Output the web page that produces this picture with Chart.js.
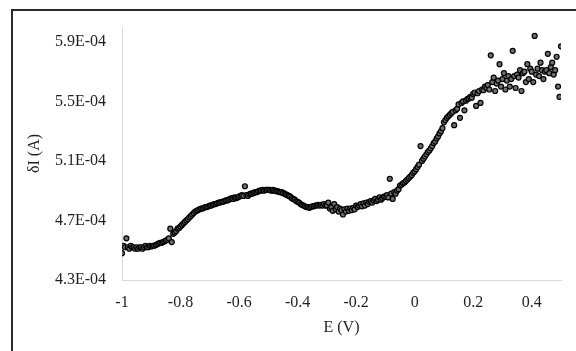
<!DOCTYPE html>
<html>
<head>
<meta charset="utf-8">
<script src="https://cdn.jsdelivr.net/npm/chart.js@4/dist/chart.umd.min.js"></script>
<style>
  html, body { margin: 0; padding: 0; background: #fff; }
  #wrap { width: 576px; height: 351px; }
</style>
</head>
<body>
<div id="wrap"><canvas id="c"></canvas></div>
<script>
// potential, V
const eV = [
  -1, -0.995, -0.99, -0.985, -0.98, -0.975, -0.97, -0.965, -0.96, -0.955,
  -0.95, -0.945, -0.94, -0.935, -0.93, -0.925, -0.92, -0.915, -0.91, -0.905,
  -0.9, -0.895, -0.89, -0.885, -0.88, -0.875, -0.87, -0.865, -0.86, -0.855,
  -0.85, -0.845, -0.84, -0.835, -0.83, -0.825, -0.82, -0.815, -0.81, -0.805,
  -0.8, -0.795, -0.79, -0.785, -0.78, -0.775, -0.77, -0.765, -0.76, -0.755,
  -0.75, -0.745, -0.74, -0.735, -0.73, -0.725, -0.72, -0.715, -0.71, -0.705,
  -0.7, -0.695, -0.69, -0.685, -0.68, -0.675, -0.67, -0.665, -0.66, -0.655,
  -0.65, -0.645, -0.64, -0.635, -0.63, -0.625, -0.62, -0.615, -0.61, -0.605,
  -0.6, -0.595, -0.59, -0.585, -0.58, -0.575, -0.57, -0.565, -0.56, -0.555,
  -0.55, -0.545, -0.54, -0.535, -0.53, -0.525, -0.52, -0.515, -0.51, -0.505,
  -0.5, -0.495, -0.49, -0.485, -0.48, -0.475, -0.47, -0.465, -0.46, -0.455,
  -0.45, -0.445, -0.44, -0.435, -0.43, -0.425, -0.42, -0.415, -0.41, -0.405,
  -0.4, -0.395, -0.39, -0.385, -0.38, -0.375, -0.37, -0.365, -0.36, -0.355,
  -0.35, -0.345, -0.34, -0.335, -0.33, -0.325, -0.32, -0.315, -0.31, -0.305,
  -0.3, -0.295, -0.29, -0.285, -0.28, -0.275, -0.27, -0.265, -0.26, -0.255,
  -0.25, -0.245, -0.24, -0.235, -0.23, -0.225, -0.22, -0.215, -0.21, -0.205,
  -0.2, -0.195, -0.19, -0.185, -0.18, -0.175, -0.17, -0.165, -0.16, -0.155,
  -0.15, -0.145, -0.14, -0.135, -0.13, -0.125, -0.12, -0.115, -0.11, -0.105,
  -0.1, -0.095, -0.09, -0.085, -0.08, -0.075, -0.07, -0.065, -0.06, -0.055,
  -0.05, -0.045, -0.04, -0.035, -0.03, -0.025, -0.02, -0.015, -0.01, -0.005,
  0, 0.005, 0.01, 0.015, 0.02, 0.025, 0.03, 0.035, 0.04, 0.045,
  0.05, 0.055, 0.06, 0.065, 0.07, 0.075, 0.08, 0.085, 0.09, 0.095,
  0.1, 0.105, 0.11, 0.115, 0.12, 0.125, 0.13, 0.135, 0.14, 0.145,
  0.15, 0.155, 0.16, 0.165, 0.17, 0.175, 0.18, 0.185, 0.19, 0.195,
  0.2, 0.205, 0.21, 0.215, 0.22, 0.225, 0.23, 0.235, 0.24, 0.245,
  0.25, 0.255, 0.26, 0.265, 0.27, 0.275, 0.28, 0.285, 0.29, 0.295,
  0.3, 0.305, 0.31, 0.315, 0.32, 0.325, 0.33, 0.335, 0.34, 0.345,
  0.35, 0.355, 0.36, 0.365, 0.37, 0.375, 0.38, 0.385, 0.39, 0.395,
  0.4, 0.405, 0.41, 0.415, 0.42, 0.425, 0.43, 0.435, 0.44, 0.445,
  0.45, 0.455, 0.46, 0.465, 0.47, 0.475, 0.48, 0.485, 0.49, 0.495,
  0.5
];

// delta current, in units of 1E-04 A
const dI = [
  4.48, 4.53, 4.52, 4.58, 4.52, 4.51, 4.53, 4.52, 4.52, 4.51,
  4.52, 4.51, 4.52, 4.52, 4.51, 4.52, 4.53, 4.52, 4.52, 4.53,
  4.525, 4.53, 4.53, 4.535, 4.54, 4.545, 4.55, 4.55, 4.555, 4.56,
  4.565, 4.57, 4.58, 4.645, 4.555, 4.61, 4.62, 4.63, 4.645, 4.65,
  4.66, 4.67, 4.68, 4.69, 4.70, 4.71, 4.72, 4.73, 4.74, 4.75,
  4.76, 4.765, 4.77, 4.775, 4.78, 4.78, 4.785, 4.79, 4.79, 4.795,
  4.80, 4.80, 4.805, 4.81, 4.81, 4.815, 4.82, 4.82, 4.825, 4.825,
  4.83, 4.835, 4.835, 4.84, 4.845, 4.85, 4.845, 4.855, 4.85, 4.855,
  4.86, 4.865, 4.87, 4.865, 4.93, 4.87, 4.865, 4.875, 4.88, 4.88,
  4.885, 4.89, 4.89, 4.895, 4.90, 4.90, 4.905, 4.90, 4.905, 4.905,
  4.905, 4.905, 4.90, 4.905, 4.90, 4.90, 4.895, 4.895, 4.89, 4.89,
  4.885, 4.88, 4.875, 4.87, 4.865, 4.86, 4.85, 4.845, 4.84, 4.83,
  4.825, 4.82, 4.81, 4.805, 4.80, 4.795, 4.79, 4.79, 4.785, 4.79,
  4.795, 4.795, 4.80, 4.80, 4.805, 4.80, 4.805, 4.80, 4.81, 4.80,
  4.80, 4.82, 4.78, 4.79, 4.765, 4.81, 4.775, 4.79, 4.76, 4.78,
  4.77, 4.74, 4.775, 4.76, 4.78, 4.765, 4.78, 4.77, 4.785, 4.775,
  4.80, 4.79, 4.80, 4.81, 4.795, 4.815, 4.80, 4.82, 4.81, 4.825,
  4.83, 4.82, 4.835, 4.845, 4.83, 4.84, 4.855, 4.84, 4.85, 4.86,
  4.86, 4.87, 4.855, 4.98, 4.88, 4.845, 4.89, 4.88, 4.90, 4.91,
  4.935, 4.94, 4.95, 4.955, 4.965, 4.975, 4.985, 4.995, 5.005, 5.02,
  5.03, 5.045, 5.06, 5.075, 5.20, 5.10, 5.115, 5.13, 5.145, 5.16,
  5.17, 5.185, 5.20, 5.22, 5.23, 5.25, 5.265, 5.285, 5.30, 5.32,
  5.36, 5.375, 5.39, 5.40, 5.41, 5.42, 5.43, 5.34, 5.44, 5.45,
  5.48, 5.39, 5.49, 5.50, 5.44, 5.505, 5.515, 5.52, 5.53, 5.525,
  5.55, 5.56, 5.47, 5.555, 5.57, 5.49, 5.58, 5.575, 5.60, 5.59,
  5.61, 5.58, 5.81, 5.63, 5.66, 5.57, 5.62, 5.64, 5.75, 5.60,
  5.65, 5.69, 5.58, 5.64, 5.67, 5.60, 5.65, 5.84, 5.67, 5.59,
  5.68, 5.66, 5.71, 5.57, 5.69, 5.70, 5.63, 5.75, 5.65, 5.72,
  5.70, 5.63, 5.94, 5.68, 5.72, 5.67, 5.76, 5.71, 5.65, 5.70,
  5.71, 5.82, 5.69, 5.73, 5.76, 5.68, 5.71, 5.80, 5.60, 5.53,
  5.87
];

const xTicks = [-1, -0.8, -0.6, -0.4, -0.2, 0, 0.2, 0.4];
const xTickLabels = ['-1', '-0.8', '-0.6', '-0.4', '-0.2', '0', '0.2', '0.4'];
const yTicks = [4.3, 4.7, 5.1, 5.5, 5.9];
const yTickLabels = ['4.3E-04', '4.7E-04', '5.1E-04', '5.5E-04', '5.9E-04'];

const points = eV.map((x, i) => ({ x: x, y: dI[i] }));

// dark frame on the left and top edges of the picture
const frame = {
  id: 'frame',
  beforeDraw(chart) {
    const c = chart.ctx;
    c.save();
    c.fillStyle = '#fff';
    c.fillRect(0, 0, chart.width, chart.height);
    c.fillStyle = '#2b2b2b';
    c.fillRect(11, 9, 2, chart.height - 9);
    c.fillRect(11, 9, chart.width - 11, 2);
    c.restore();
  }
};

const font = { family: '"Liberation Serif", "Times New Roman", serif', size: 16 };
const textColor = '#1f1f1f';

new Chart(document.getElementById('c'), {
  type: 'scatter',
  data: {
    datasets: [{
      data: points,
      pointRadius: 2.5,
      pointBorderWidth: 1.2,
      borderColor: '#000',
      backgroundColor: '#6e6e6e'
    }]
  },
  options: {
    responsive: true,
    maintainAspectRatio: false,
    animation: false,
    devicePixelRatio: 1,
    layout: { padding: { top: 27, right: 15, left: 0, bottom: 0 } },
    plugins: {
      legend: { display: false },
      tooltip: { enabled: false }
    },
    scales: {
      x: {
        type: 'linear',
        min: -1,
        max: 0.5,
        afterBuildTicks: s => { s.ticks = xTicks.map(v => ({ value: v })); },
        afterFit: s => { s.height = 71; },
        grid: { display: false, drawTicks: false },
        border: { display: true, color: '#d9d9d9', width: 1 },
        ticks: {
          padding: 13,
          color: textColor,
          font: font,
          maxRotation: 0,
          callback: (v, i) => xTickLabels[i]
        },
        title: {
          display: true,
          text: 'E (V)',
          color: textColor,
          font: font,
          padding: { top: 0, bottom: 14 }
        }
      },
      y: {
        min: 4.3,
        max: 6.0,
        afterBuildTicks: s => { s.ticks = yTicks.map(v => ({ value: v })); },
        afterFit: s => { s.width = 122; },
        grid: { display: false, drawTicks: false },
        border: { display: true, color: '#d9d9d9', width: 1 },
        ticks: {
          padding: 16,
          color: textColor,
          font: font,
          callback: (v, i) => yTickLabels[i]
        },
        title: {
          display: true,
          text: 'δI (A)',
          color: textColor,
          font: font,
          padding: { top: 25, bottom: 0 }
        }
      }
    }
  },
  plugins: [frame]
});
</script>
</body>
</html>
